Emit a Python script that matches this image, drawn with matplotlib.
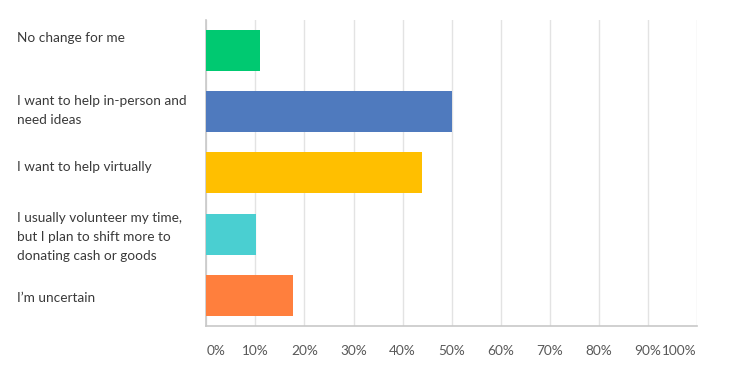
import matplotlib
matplotlib.use("Agg")
import matplotlib.pyplot as plt
import matplotlib.transforms as mtransforms

categories = [
    "No change for me",
    "I want to help in-person and\nneed ideas",
    "I want to help virtually",
    "I usually volunteer my time,\nbut I plan to shift more to\ndonating cash or goods",
    "I\u2019m uncertain",
]
values = [10.9, 50.0, 44.0, 10.1, 17.6]
colors = ["#00C971", "#4F7ABE", "#FFBF00", "#4ACFD1", "#FF7F3D"]
xticks = [0, 10, 20, 30, 40, 50, 60, 70, 80, 90, 100]
xticklabels = [f"{t}%" for t in xticks]

# layout-only vertical nudges for the category labels (points)
label_offsets = [9, 1, 4, -2, -2]

plt.rcParams['font.family'] = ['Lato', 'DejaVu Sans']

fig = plt.figure(figsize=(7.52, 3.76), dpi=100)
ax = fig.add_axes([0.2746, 0.133, 0.6516, 0.8138])

y = list(range(len(categories)))
ax.barh(y, values, height=0.67, color=colors, zorder=3)
ax.set_ylim(len(categories) - 0.5, -0.5)
ax.set_xlim(0, 100)

ax.set_xticks(xticks)
ax.set_xticklabels(xticklabels, fontsize=9.8, color="#595959")
labs = ax.get_xticklabels()
labs[0].set_ha("left")
labs[-1].set_ha("right")
ax.tick_params(axis="x", length=0, pad=14)
ax.set_yticks([])

ax.grid(axis="x", color="#e3e3e3", linewidth=1, zorder=0)
for s in ["top", "right"]:
    ax.spines[s].set_visible(False)
ax.spines["left"].set_color("#c8c8c8")
ax.spines["bottom"].set_color("#c8c8c8")
ax.spines["left"].set_linewidth(1.2)
ax.spines["bottom"].set_linewidth(1.2)

trans = mtransforms.blended_transform_factory(fig.transFigure, ax.transData)
for i, (lab, off) in enumerate(zip(categories, label_offsets)):
    t = trans + mtransforms.ScaledTranslation(0, off / 72, fig.dpi_scale_trans)
    ax.text(17 / 752, i, lab, transform=t, ha="left", va="center",
            fontsize=9.8, color="#3a3a3a", linespacing=1.72)

fig.savefig("out.png", dpi=100)
